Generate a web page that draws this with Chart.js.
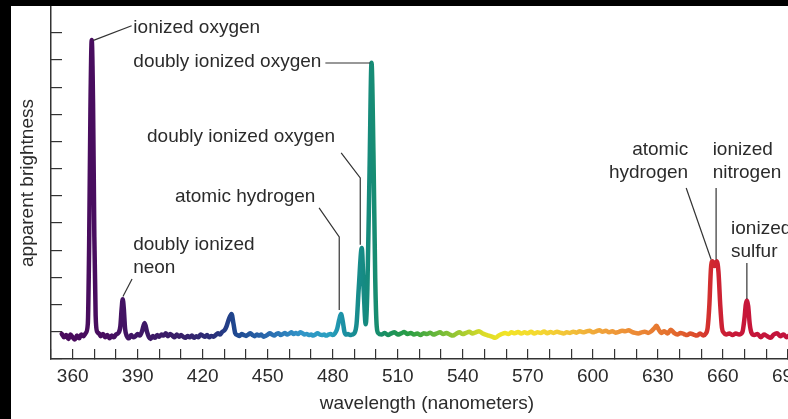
<!DOCTYPE html>
<html>
<head>
<meta charset="utf-8">
<script src="https://cdn.jsdelivr.net/npm/chart.js@4.4.1/dist/chart.umd.min.js"></script>
<style>
  html, body { margin: 0; padding: 0; background: #000; overflow: hidden; width: 788px; height: 419px; }
  #frame { position: absolute; left: 11px; top: 6px; width: 792px; height: 413px; background: #fff; }
  canvas { display: block; }
</style>
</head>
<body>
<div id="frame"><canvas id="spectrum" width="792" height="413"></canvas></div>
<script>
// Emission spectrum of a nebula: wavelength (nm) against apparent brightness
const wavelengths = [
  355, 356, 357, 358, 359, 360, 361, 362, 363, 364, 365, 366,
  367, 367.6, 368.2, 368.8, 369.4, 370, 370.6, 371.3,
  372, 373, 374, 375, 376, 377, 378, 379, 380, 381,
  382, 382.6, 383.1, 383.6, 384.2, 385,
  386, 387, 388, 389, 390, 391, 392, 393.2, 394.3, 395.2,
  396, 397, 398, 399, 400, 401, 402, 403, 404, 405, 406, 407, 408, 409, 410,
  411, 412, 413, 414, 415, 416, 417, 418, 419, 420, 421, 422, 423, 424, 425,
  426, 427, 428, 429, 430, 431, 432, 433.3, 434.2, 435,
  436, 437, 438, 439, 440, 441, 442, 443, 444, 445, 446, 447, 448, 449, 450,
  451, 452, 453, 454, 455, 456, 457, 458, 459, 460, 461, 462, 463, 464, 465,
  466, 467, 468, 469, 470, 471, 472, 473, 474, 475, 476, 477, 478, 479, 480, 481,
  482, 483, 483.8, 484.6, 485.4, 486.3, 487, 488, 489, 490,
  491, 492, 493.4, 494.3, 495.2, 496, 497, 497.9, 498.8, 499.6, 500.3,
  501, 502.5, 504, 505.5, 507, 508.5, 510, 511.5, 513, 514.5, 516, 517.5, 519, 520.5,
  522, 523.5, 525, 526.5, 528, 529.5, 531, 532.5, 534, 535.5, 537, 538.5, 540, 541.5,
  543, 544.5, 546, 547.5, 549, 550.5, 552, 553.5, 555, 556.5, 558, 559.5, 561, 562.5,
  564, 565.5, 567, 568.5, 570, 571.5, 573, 574.5, 576, 577.5, 579, 580.5, 582, 583.5,
  585, 586.5, 588, 589.5, 591, 592.5, 594, 595.5, 597, 598.5, 600, 601.5, 603, 604.5,
  606, 607.5, 609, 610.5, 612, 613.5, 615, 616.5, 618, 619.5, 621, 622.5, 624, 625.5,
  627, 628.5, 629.4, 630.3, 631.5, 633, 634.5, 636, 637.5, 639, 640.5, 642, 643.5,
  645, 646.5, 648, 649.5, 651, 652, 653, 653.8, 654.5, 655.2, 656.2, 657.2, 658,
  658.8, 659.6, 660.5, 661.5, 663, 664.5, 666, 667.5, 669, 670, 670.6, 671.1, 671.7,
  672.4, 673.3, 674.5, 676, 677.5, 679, 680.5, 682, 683.5, 685, 686.5, 688, 689.5,
  691, 692.5, 694, 695.5, 697
];

const brightness = [
  0.92, 0.80, 0.88, 0.74, 0.90, 0.80, 0.72, 0.86, 0.76, 0.90, 0.84, 0.95,
  1.30, 4.2, 9.2, 11.74, 9.4, 4.5, 1.6, 1.0,
  0.95, 0.84, 0.92, 0.80, 0.88, 0.76, 0.86, 0.80, 0.90, 0.95,
  1.20, 1.85, 2.20, 1.85, 1.10, 0.84,
  0.76, 0.88, 0.80, 0.84, 0.92, 0.86, 1.02, 1.32, 1.00, 0.80,
  0.74, 0.85, 0.78, 0.88, 0.82, 0.90, 0.86, 0.95, 0.84, 0.92, 0.86, 0.80, 0.90, 0.82, 0.88,
  0.82, 0.78, 0.85, 0.80, 0.86, 0.78, 0.84, 0.80, 0.90, 0.86, 0.82, 0.88, 0.80, 0.85, 0.82,
  0.88, 0.95, 0.90, 1.00, 1.05, 1.20, 1.45, 1.66, 1.30, 0.95,
  0.88, 0.85, 0.92, 0.88, 0.85, 0.90, 0.95, 0.88, 0.84, 0.90, 0.86, 0.90, 0.82, 0.85, 0.90,
  0.95, 0.90, 0.86, 0.92, 0.95, 0.88, 0.92, 0.96, 0.90, 0.94, 0.98, 0.92, 0.96, 0.92, 0.98,
  0.95, 0.90, 0.92, 0.88, 0.90, 0.86, 0.90, 0.95, 0.90, 0.88, 0.90, 0.86, 0.90, 0.92, 0.88, 0.94,
  1.10, 1.45, 1.66, 1.40, 1.00, 0.90, 0.92, 0.88, 0.90, 0.95,
  1.30, 2.6, 4.08, 2.5, 1.28, 2.6, 7.0, 10.9, 7.5, 3.0, 1.2,
  0.95, 0.90, 0.96, 0.88, 0.94, 0.98, 0.90, 0.94, 0.99, 0.92, 0.96, 0.90, 0.94, 0.88,
  0.95, 0.92, 0.97, 0.90, 0.94, 0.98, 0.92, 0.96, 0.90, 0.86, 0.93, 0.98, 0.92, 0.96,
  1.00, 0.94, 0.98, 1.02, 0.95, 0.90, 0.86, 0.82, 0.78, 0.86, 0.92, 0.96, 0.92, 0.98,
  0.95, 0.99, 0.94, 0.98, 0.95, 1.00, 0.94, 0.98, 0.96, 1.01, 0.95, 0.99, 0.96, 1.00,
  0.97, 0.94, 0.98, 0.96, 1.00, 0.97, 1.02, 0.98, 1.01, 1.04, 0.98, 1.02, 1.06, 1.00,
  1.04, 0.98, 1.02, 0.97, 1.00, 1.04, 1.02, 1.06, 1.00, 0.96, 0.94, 0.98, 1.00, 0.96,
  1.02, 1.14, 1.22, 1.10, 0.96, 1.02, 0.94, 1.08, 0.96, 0.90, 0.96, 0.92, 0.88,
  0.94, 0.90, 0.86, 0.94, 0.86, 0.92, 1.15, 2.0, 3.3, 3.6, 3.42, 3.6, 3.2,
  2.0, 1.15, 0.96, 0.90, 0.94, 0.88, 0.94, 0.90, 0.98, 1.5, 2.0, 2.15, 1.95,
  1.3, 0.95, 0.88, 0.92, 0.80, 0.90, 0.84, 0.78, 0.90, 0.95, 0.84, 0.90, 0.80,
  0.88, 0.84, 0.90, 0.86, 0.90
];

// Spectrum colours along the wavelength axis
const colorStopNm = [355, 375, 390, 410, 425, 435, 450, 465, 478, 485, 495, 505, 515, 528, 540, 550, 560, 575, 590, 605, 620, 635, 648, 655, 665, 697];
const colorStopHex = ['#4a0b5c', '#480e60', '#3f1766', '#382068', '#2a2f7a', '#1f4890', '#2a6aae', '#3294c8', '#2aa0c0', '#1b90a4', '#158a80', '#1a9060', '#2a9e44', '#6ab83a', '#a8cc30', '#dcdc28', '#f2e426', '#f4d830', '#f2c038', '#f0a03a', '#ec8a36', '#e4702e', '#dc4a2c', '#d02830', '#c81838', '#c0103e'];

// Labelled emission lines: text anchor and leader line in (nm, brightness)
const callouts = [
  { lines: ['ionized oxygen'], at: [388, 12.2], align: 'left', leader: [[369.6, 11.72], [387.2, 12.26]] },
  { lines: ['doubly ionized oxygen'], at: [388, 10.94], align: 'left', leader: [[476.6, 10.89], [497.3, 10.89]] },
  { lines: ['doubly ionized oxygen'], at: [394.3, 8.17], align: 'left', leader: [[483.9, 7.58], [492.7, 6.66], [492.7, 4.2]] },
  { lines: ['atomic hydrogen'], at: [407.2, 5.96], align: 'left', leader: [[473.7, 5.56], [483.0, 4.49], [483.0, 1.8]] },
  { lines: ['doubly ionized', 'neon'], at: [387.9, 4.19], align: 'left', leader: [[387.4, 2.94], [383.2, 2.3]] },
  { lines: ['atomic', 'hydrogen'], at: [644.0, 7.69], align: 'right', leader: [[643.1, 6.29], [654.6, 3.66]] },
  { lines: ['ionized', 'nitrogen'], at: [655.3, 7.69], align: 'left', leader: [[656.9, 6.29], [656.9, 3.66]] },
  { lines: ['ionized', 'sulfur'], at: [663.8, 4.78], align: 'left', leader: [[671.1, 3.53], [671.1, 2.21]] }
];

const textColor = '#2b2b2b';
const fontFamily = '"Liberation Sans", Arial, Helvetica, sans-serif';
const fontSize = 19;

function spectrumGradient(context) {
  const { ctx, chartArea, scales } = context.chart;
  if (!chartArea) return colorStopHex[0];
  const first = colorStopNm[0];
  const last = colorStopNm[colorStopNm.length - 1];
  const g = ctx.createLinearGradient(scales.x.getPixelForValue(first), 0, scales.x.getPixelForValue(last), 0);
  colorStopNm.forEach((nm, i) => g.addColorStop((nm - first) / (last - first), colorStopHex[i]));
  return g;
}

const calloutPlugin = {
  id: 'callouts',
  afterDatasetsDraw(chart) {
    const { ctx, scales: { x, y } } = chart;
    ctx.save();
    ctx.font = fontSize + 'px ' + fontFamily;
    ctx.fillStyle = textColor;
    ctx.strokeStyle = '#333';
    ctx.lineWidth = 1.2;
    ctx.textBaseline = 'middle';
    callouts.forEach(c => {
      ctx.beginPath();
      c.leader.forEach(([wl, b], i) => {
        const px = x.getPixelForValue(wl);
        const py = y.getPixelForValue(b);
        if (i === 0) ctx.moveTo(px, py); else ctx.lineTo(px, py);
      });
      ctx.stroke();
      ctx.textAlign = c.align;
      const tx = x.getPixelForValue(c.at[0]);
      const ty = y.getPixelForValue(c.at[1]);
      c.lines.forEach((line, i) => ctx.fillText(line, tx, ty + i * 22.5));
    });
    ctx.restore();
  }
};

new Chart(document.getElementById('spectrum'), {
  type: 'line',
  data: {
    datasets: [{
      data: wavelengths.map((w, i) => ({ x: w, y: brightness[i] })),
      borderColor: spectrumGradient,
      borderWidth: 4.5,
      pointRadius: 0,
      cubicInterpolationMode: 'monotone',
      borderJoinStyle: 'round',
      borderCapStyle: 'round',
      fill: false
    }]
  },
  options: {
    responsive: false,
    animation: false,
    layout: { padding: { top: 1, left: 0, right: 0, bottom: 0 } },
    plugins: {
      legend: { display: false },
      tooltip: { enabled: false }
    },
    scales: {
      x: {
        type: 'linear',
        min: 350,
        max: 697,
        afterFit(scale) {
          scale.height = 60;
          scale.paddingLeft = 0;
          scale.paddingRight = 0;
        },
        ticks: {
          stepSize: 10,
          includeBounds: false,
          autoSkip: false,
          maxRotation: 0,
          padding: 16.5,
          color: textColor,
          font: { family: fontFamily, size: fontSize },
          callback: v => (Math.round(v) - 360) % 30 === 0 ? String(Math.round(v)) : ''
        },
        grid: { drawOnChartArea: false, tickLength: -10, color: '#333', lineWidth: 1.2 },
        border: { color: '#333', width: 1.5 },
        title: {
          display: true,
          text: 'wavelength (nanometers)',
          color: textColor,
          font: { family: fontFamily, size: fontSize }
        }
      },
      y: {
        min: 0,
        max: 12.95,
        afterFit(scale) {
          scale.width = 40;
          scale.paddingTop = 0;
          scale.paddingBottom = 0;
        },
        ticks: { stepSize: 1, includeBounds: false, display: false },
        grid: { drawOnChartArea: false, tickLength: -11, color: '#333', lineWidth: 1.2 },
        border: { color: '#333', width: 1.5 },
        title: {
          display: true,
          text: 'apparent brightness',
          color: textColor,
          padding: { top: 5, bottom: 4 },
          font: { family: fontFamily, size: fontSize }
        }
      }
    }
  },
  plugins: [calloutPlugin]
});
</script>
</body>
</html>
